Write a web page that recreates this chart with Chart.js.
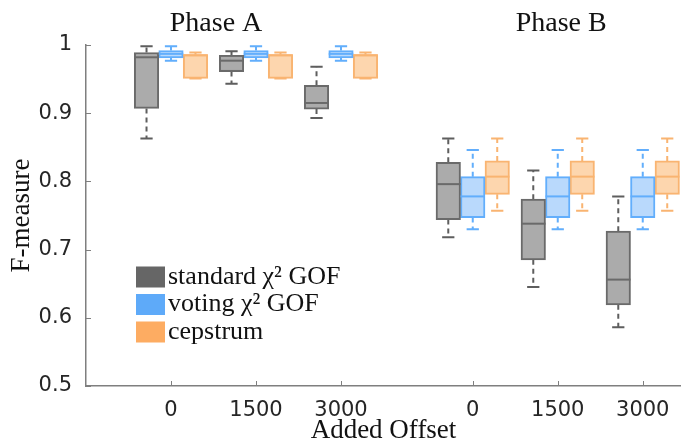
<!DOCTYPE html>
<html>
<head>
<meta charset="utf-8">
<script src="https://cdn.jsdelivr.net/npm/chart.js@4/dist/chart.umd.min.js"></script>
<style>
  html, body { margin: 0; padding: 0; background: #fff; }
  #wrap { width: 681px; height: 445px; }
</style>
</head>
<body>
<div id="wrap"><canvas id="chart" width="681" height="445"></canvas></div>
<script>
// group positions on the x axis and their labels
const groupPos = [1, 2, 3, 4.55, 5.55, 6.55];
const offsetLabels = ['0', '1500', '3000', '0', '1500', '3000'];
const phaseNames = ['Phase A', 'Phase B'];
const phasePos = [1.53, 5.59];

// five-number summaries per group: [min, q1, median, q3, max]
const standardGOF = [
    [0.863, 0.907, 0.982, 0.989, 0.998],
    [0.943, 0.961, 0.977, 0.985, 0.991],
    [0.893, 0.906, 0.915, 0.941, 0.968],
    [0.718, 0.744, 0.796, 0.828, 0.863],
    [0.645, 0.685, 0.738, 0.774, 0.816],
    [0.586, 0.619, 0.656, 0.727, 0.778]
];
const votingGOF = [
    [0.977, 0.981, 0.987, 0.992, 0.998],
    [0.977, 0.981, 0.987, 0.992, 0.998],
    [0.977, 0.981, 0.987, 0.992, 0.998],
    [0.730, 0.747, 0.778, 0.807, 0.846],
    [0.730, 0.747, 0.778, 0.807, 0.846],
    [0.730, 0.747, 0.778, 0.807, 0.846]
];
const cepstrum = [
    [0.951, 0.951, 0.985, 0.986, 0.989],
    [0.951, 0.951, 0.985, 0.986, 0.989],
    [0.951, 0.951, 0.985, 0.986, 0.989],
    [0.757, 0.781, 0.807, 0.830, 0.863],
    [0.757, 0.781, 0.807, 0.830, 0.863],
    [0.757, 0.781, 0.807, 0.830, 0.863]
];

const methods = [
    { label: 'standard \u03C7\u00B2 GOF', stats: standardGOF, fill: '#ababab', edge: '#6a6a6a', whisker: '#5e5e5e', swatch: '#666666' },
    { label: 'voting \u03C7\u00B2 GOF', stats: votingGOF, fill: '#b9d9fc', edge: '#62aefc', whisker: '#62aefc', swatch: '#5eaaf9' },
    { label: 'cepstrum', stats: cepstrum, fill: '#fdd6ae', edge: '#f9b471', whisker: '#f9b471', swatch: '#fdac62' }
];
const boxShift = 0.288;
const serif = '"Liberation Serif", "DejaVu Serif", serif';
const sans = '"DejaVu Sans", sans-serif';

const datasets = methods.map((m, i) => ({
    label: m.label,
    data: m.stats.map((s, g) => ({ x: groupPos[g] + (i - 1) * boxShift, y: [s[1], s[3]] })),
    backgroundColor: m.fill,
    borderColor: m.edge,
    borderWidth: 2,
    borderSkipped: false,
    barThickness: 24.5,
    grouped: false
}));

// whiskers, caps and medians, drawn from the stats through the scales
const boxPlotPlugin = {
    id: 'boxPlot',
    beforeDatasetsDraw(chart) {
        const ctx = chart.ctx;
        const y = chart.scales.y;
        methods.forEach((m, i) => {
            const meta = chart.getDatasetMeta(i);
            meta.data.forEach((bar, g) => {
                const s = m.stats[g];
                const cx = bar.x;
                const half = bar.width / 4;
                ctx.save();
                ctx.strokeStyle = m.whisker;
                ctx.lineWidth = 2;
                ctx.setLineDash([5, 4]);
                ctx.beginPath();
                ctx.moveTo(cx, y.getPixelForValue(s[3]));
                ctx.lineTo(cx, y.getPixelForValue(s[4]));
                ctx.moveTo(cx, y.getPixelForValue(s[1]));
                ctx.lineTo(cx, y.getPixelForValue(s[0]));
                ctx.stroke();
                ctx.setLineDash([]);
                ctx.beginPath();
                [s[0], s[4]].forEach(v => {
                    const py = y.getPixelForValue(v);
                    ctx.moveTo(cx - half, py);
                    ctx.lineTo(cx + half, py);
                });
                ctx.stroke();
                ctx.restore();
            });
        });
    },
    afterDatasetsDraw(chart) {
        const ctx = chart.ctx;
        const y = chart.scales.y;
        methods.forEach((m, i) => {
            const meta = chart.getDatasetMeta(i);
            meta.data.forEach((bar, g) => {
                const py = y.getPixelForValue(m.stats[g][2]);
                ctx.save();
                ctx.strokeStyle = m.edge;
                ctx.lineWidth = 2;
                ctx.beginPath();
                ctx.moveTo(bar.x - bar.width / 2, py);
                ctx.lineTo(bar.x + bar.width / 2, py);
                ctx.stroke();
                ctx.restore();
            });
        });
    },
    afterDraw(chart) {
        const ctx = chart.ctx;
        const { x, y } = chart.scales;
        const area = chart.chartArea;
        ctx.save();
        // inward tick marks
        ctx.strokeStyle = '#7f7f7f';
        ctx.lineWidth = 1;
        ctx.beginPath();
        groupPos.forEach(v => {
            const px = Math.round(x.getPixelForValue(v)) + 0.5;
            ctx.moveTo(px, area.bottom);
            ctx.lineTo(px, area.bottom - 5);
        });
        y.ticks.forEach(t => {
            const py = Math.round(y.getPixelForValue(t.value)) + 0.5;
            ctx.moveTo(area.left, py);
            ctx.lineTo(area.left + 5, py);
        });
        ctx.stroke();

        // phase titles
        ctx.fillStyle = '#111';
        ctx.font = '28px ' + serif;
        ctx.textAlign = 'center';
        ctx.textBaseline = 'alphabetic';
        phaseNames.forEach((name, k) => {
            ctx.fillText(name, x.getPixelForValue(phasePos[k]), 31);
        });

        // legend
        ctx.textAlign = 'left';
        ctx.font = '26px ' + serif;
        methods.forEach((m, k) => {
            const top = 266.5 + k * 27.5;
            ctx.fillStyle = m.swatch;
            ctx.fillRect(136, top, 29, 21);
            ctx.fillStyle = '#111';
            ctx.fillText(m.label, 168, top + 17);
        });
        ctx.restore();
    }
};

new Chart(document.getElementById('chart'), {
    type: 'bar',
    data: { datasets },
    options: {
        responsive: false,
        animation: false,
        layout: { padding: { top: 45, right: 0, left: 0, bottom: 0 } },
        plugins: { legend: { display: false }, tooltip: { enabled: false } },
        scales: {
            x: {
                type: 'linear',
                min: 0,
                max: 7,
                offset: false,
                grid: { display: false },
                border: { display: true, color: '#7f7f7f', width: 1.5 },
                afterBuildTicks: (scale) => { scale.ticks = groupPos.map(v => ({ value: v })); },
                afterFit: (scale) => { scale.height = 59; },
                ticks: {
                    autoSkip: false,
                    maxRotation: 0,
                    padding: 4,
                    color: '#262626',
                    font: { family: sans, size: 21 },
                    callback: (v, i) => offsetLabels[i]
                },
                title: {
                    display: true,
                    text: 'Added Offset',
                    color: '#111',
                    font: { family: serif, size: 27 },
                    padding: { top: 0, bottom: -2 }
                }
            },
            y: {
                min: 0.5,
                max: 1,
                grid: { display: false },
                border: { display: true, color: '#7f7f7f', width: 1.5 },
                afterFit: (scale) => { scale.width = 86; },
                ticks: {
                    stepSize: 0.1,
                    padding: 6,
                    color: '#262626',
                    font: { family: sans, size: 21 },
                    callback: (v) => String(Math.round(v * 10) / 10)
                },
                title: {
                    display: true,
                    text: 'F-measure',
                    color: '#111',
                    font: { family: serif, size: 27 },
                    padding: { top: 6, bottom: 0 }
                }
            }
        }
    },
    plugins: [boxPlotPlugin]
});
</script>
</body>
</html>
